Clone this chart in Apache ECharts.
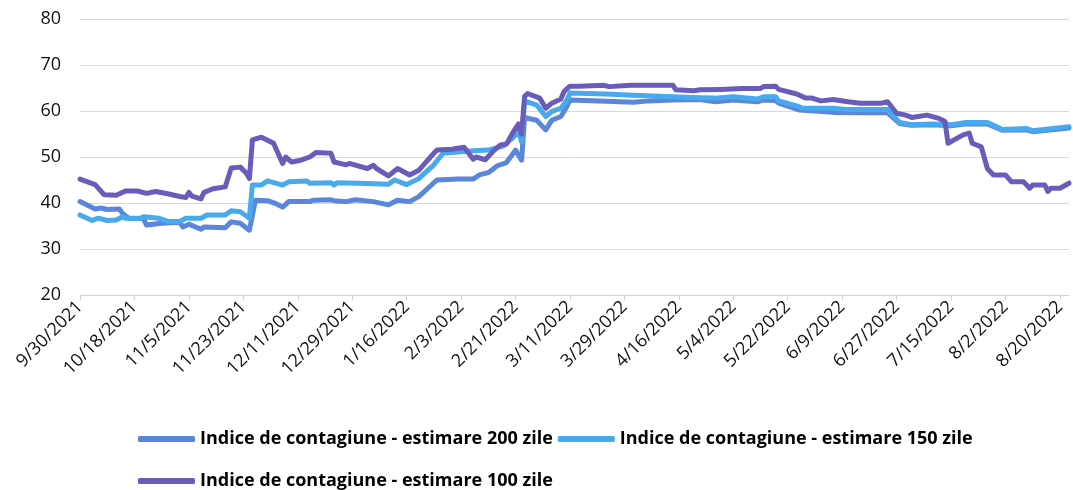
<!DOCTYPE html>
<html>
<head>
<meta charset="utf-8">
<title>Indice de contagiune</title>
<script src="https://cdn.jsdelivr.net/npm/echarts@6.0.0/dist/echarts.min.js"></script>
<style>
    html, body { margin: 0; padding: 0; background: #fff; }
    .echarts_1 { width: 1073px; height: 490px; }
</style>
</head>
<body>
<div class="echarts_1"></div>
<script>
// zile de la 9/30/2021 (ziua 0) si valorile
var startDate = [2021, 8, 30];
var lastDay = 327;

var names = [
    'Indice de contagiune - estimare 200 zile',
    'Indice de contagiune - estimare 150 zile',
    'Indice de contagiune - estimare 100 zile'
];

var days200 = [0, 5, 7, 9, 13, 14, 16, 21, 22, 27, 33, 34, 36, 40, 41, 48, 50, 53, 56, 58, 62, 65, 67, 69, 76, 77, 83, 84, 88, 91, 97, 102, 105, 109, 112, 118, 125, 130, 132, 135, 138, 141, 144, 146, 147, 151, 154, 156, 159, 161, 162, 174, 183, 188, 196, 205, 210, 216, 224, 226, 230, 231, 238, 249, 258, 267, 271, 275, 282, 288, 293, 300, 305, 313, 315, 327];
var vals200 = [40.3, 38.7, 38.9, 38.6, 38.7, 37.8, 36.7, 36.6, 35.2, 35.6, 35.8, 34.8, 35.4, 34.3, 34.8, 34.6, 35.9, 35.6, 34.1, 40.6, 40.5, 39.8, 39.1, 40.3, 40.3, 40.6, 40.7, 40.5, 40.3, 40.7, 40.3, 39.6, 40.6, 40.3, 41.4, 45.0, 45.2, 45.2, 46.1, 46.6, 48.1, 48.8, 51.5, 49.3, 58.6, 58.0, 55.9, 58.0, 58.8, 61.0, 62.4, 62.1, 61.9, 62.2, 62.4, 62.5, 62.0, 62.4, 62.0, 62.4, 62.3, 61.7, 60.2, 59.7, 59.6, 59.6, 57.3, 56.9, 57.0, 56.8, 57.2, 57.2, 55.8, 55.9, 55.5, 56.3];

var days150 = [0, 4, 6, 9, 12, 14, 15, 20, 21, 26, 29, 33, 35, 40, 42, 48, 50, 53, 56, 57, 60, 62, 67, 69, 75, 76, 83, 84, 85, 92, 102, 104, 108, 112, 117, 120, 129, 135, 140, 143, 145, 146, 147, 151, 154, 156, 159, 161, 162, 174, 181, 196, 205, 210, 216, 224, 226, 230, 231, 237, 239, 249, 254, 267, 271, 275, 282, 288, 293, 300, 305, 313, 315, 327];
var vals150 = [37.4, 36.2, 36.7, 36.2, 36.3, 37.0, 36.7, 36.7, 37.0, 36.7, 36.0, 36.0, 36.7, 36.7, 37.4, 37.4, 38.3, 38.1, 36.7, 43.9, 43.9, 44.8, 43.9, 44.6, 44.8, 44.3, 44.4, 43.9, 44.4, 44.3, 44.1, 45.0, 44.0, 45.3, 48.3, 50.8, 51.3, 51.5, 52.4, 54.1, 55.5, 53.3, 62.2, 61.3, 58.8, 59.9, 60.6, 62.4, 63.9, 63.7, 63.5, 63.1, 62.9, 62.8, 63.1, 62.6, 63.1, 63.1, 62.2, 61.1, 60.6, 60.6, 60.3, 60.3, 57.5, 57.0, 57.2, 57.0, 57.5, 57.5, 56.0, 56.2, 55.7, 56.6];

var days100 = [0, 5, 8, 12, 15, 19, 22, 25, 29, 33, 35, 36, 37, 40, 41, 44, 48, 50, 53, 55, 56, 57, 60, 64, 67, 68, 70, 73, 76, 78, 83, 84, 88, 89, 95, 97, 98, 102, 105, 109, 112, 116, 118, 123, 127, 130, 131, 134, 137, 139, 141, 143, 145, 146, 147, 148, 152, 154, 156, 159, 160, 162, 165, 173, 175, 182, 196, 197, 203, 205, 212, 219, 225, 226, 230, 231, 237, 240, 242, 245, 249, 254, 258, 265, 267, 270, 273, 275, 280, 284, 286, 287, 292, 294, 295, 298, 300, 302, 306, 308, 312, 314, 315, 319, 320, 321, 324, 327];
var vals100 = [45.2, 44.0, 41.8, 41.7, 42.6, 42.6, 42.1, 42.5, 42.0, 41.4, 41.2, 42.3, 41.5, 40.9, 42.3, 43.1, 43.5, 47.6, 47.8, 46.5, 45.3, 53.7, 54.3, 53.0, 48.6, 50.0, 48.9, 49.3, 50.0, 51.0, 50.8, 48.9, 48.3, 48.6, 47.5, 48.2, 47.5, 45.9, 47.5, 46.1, 47.1, 50.1, 51.5, 51.7, 52.1, 49.5, 50.0, 49.4, 51.5, 52.6, 52.8, 55.2, 57.2, 55.0, 63.2, 63.8, 62.8, 60.6, 61.7, 62.6, 64.2, 65.4, 65.4, 65.6, 65.3, 65.6, 65.6, 64.6, 64.4, 64.6, 64.7, 64.9, 64.9, 65.3, 65.4, 64.7, 63.7, 62.8, 62.8, 62.2, 62.5, 62.0, 61.7, 61.7, 62.0, 59.5, 59.1, 58.6, 59.1, 58.4, 57.7, 53.0, 54.8, 55.2, 53.0, 52.2, 47.5, 46.1, 46.1, 44.6, 44.6, 43.2, 43.9, 43.9, 42.5, 43.2, 43.2, 44.3];

var colors = ['#5b86dc', '#48a9ec', '#6a5cbb'];

function pairs(days, vals) {
    var out = [];
    for (var i = 0; i < days.length; i++) {
        out.push([days[i], vals[i]]);
    }
    return out;
}

// ziua -> M/D/YYYY
function dayLabel(d) {
    if (d % 18 !== 0) return '';
    var dt = new Date(startDate[0], startDate[1], startDate[2] + d);
    return (dt.getMonth() + 1) + '/' + dt.getDate() + '/' + dt.getFullYear();
}

var echarts_1 = echarts.init(document.querySelector('.echarts_1'));

function lineSeries(i, days, vals) {
    return {
        name: names[i],
        type: 'line',
        data: pairs(days, vals),
        showSymbol: false,
        symbol: 'none',
        color: colors[i],
        lineStyle: { width: 5, color: colors[i], cap: 'round', join: 'round' },
        animation: false
    };
}

var legendText = { fontFamily: 'Open Sans', fontWeight: 'bold', fontSize: 18, color: '#000' };

var option1 = {
    animation: false,
    grid: { left: 80, right: 4, top: 19, bottom: 195 },
    legend: [{
        data: [names[0], names[1]],
        left: 138, top: 430, padding: 0,
        icon: 'roundRect', itemWidth: 57, itemHeight: 6, itemGap: 5,
        textStyle: legendText
    }, {
        data: [names[2]],
        left: 138, top: 472, padding: 0,
        icon: 'roundRect', itemWidth: 57, itemHeight: 6,
        textStyle: legendText
    }],
    xAxis: {
        type: 'value',
        min: 0,
        max: lastDay,
        interval: 18,
        splitLine: { show: false },
        axisLine: { lineStyle: { color: '#d3d3d3', width: 1 } },
        axisTick: { show: true, length: 5, lineStyle: { color: '#d3d3d3' } },
        axisLabel: {
            rotate: 45,
            margin: 9,
            fontFamily: 'Open Sans',
            fontSize: 18,
            color: '#111',
            showMaxLabel: false,
            formatter: dayLabel
        }
    },
    //Y轴刻度
    yAxis: {
        type: 'value',
        min: 20,
        max: 80,
        interval: 10,
        axisLine: { show: false },
        axisTick: { show: false },
        splitLine: { lineStyle: { color: '#d9d9d9', width: 1 } },
        axisLabel: { fontFamily: 'Open Sans', fontSize: 18, color: '#111', margin: 19 }
    },
    series: [
        lineSeries(0, days200, vals200),
        lineSeries(1, days150, vals150),
        lineSeries(2, days100, vals100)
    ]
};

echarts_1.setOption(option1);
</script>
</body>
</html>
